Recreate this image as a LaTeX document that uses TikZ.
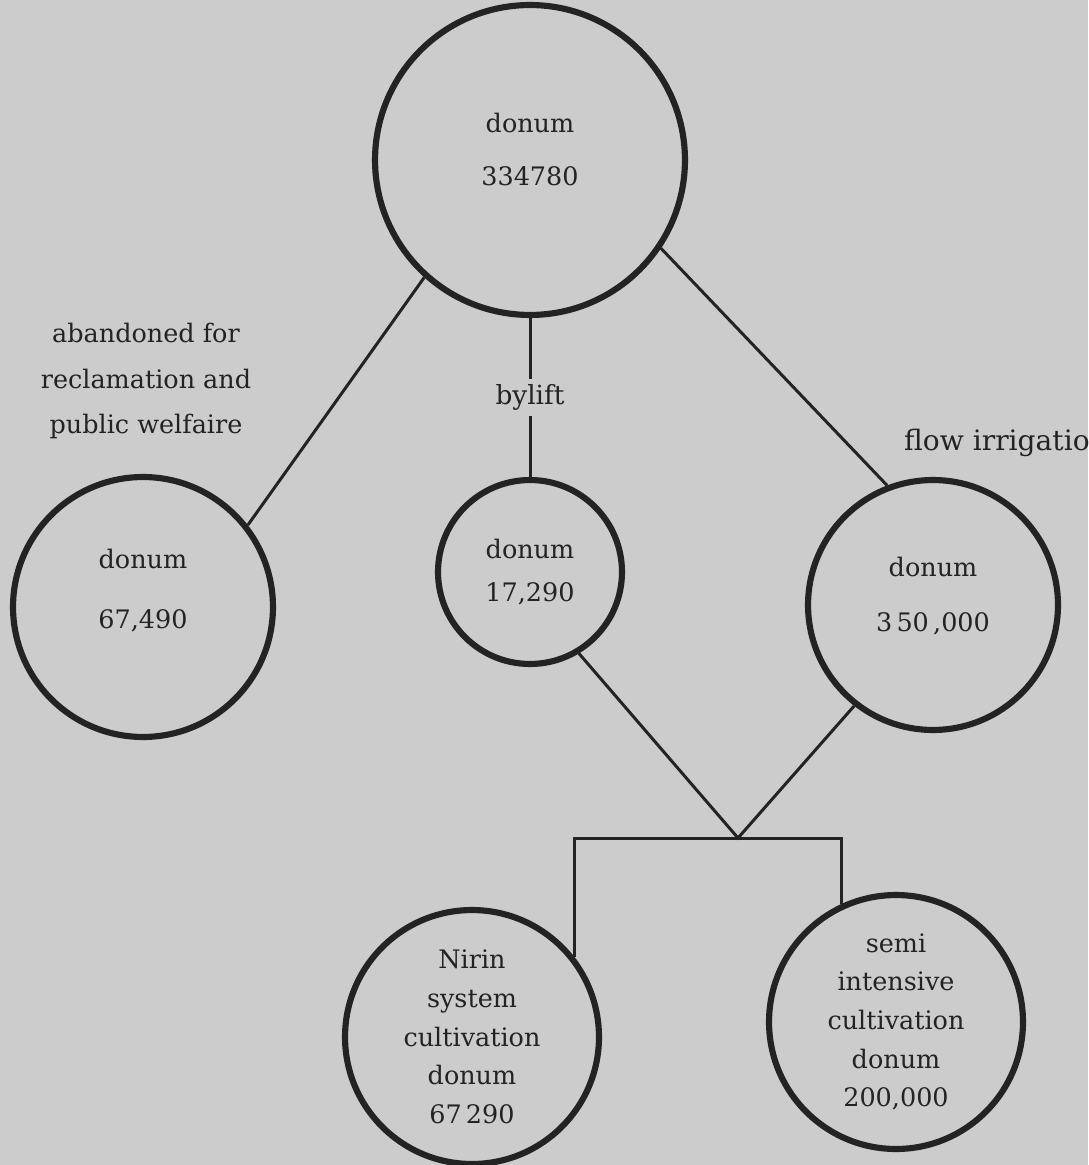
\documentclass[tikz,border=0pt]{standalone}
\usepackage{fontspec}
\setmainfont{DejaVu Serif}
\usetikzlibrary{positioning}
\definecolor{paper}{RGB}{204,204,204}
\definecolor{ink}{RGB}{35,35,35}

\begin{document}
\begin{tikzpicture}[x=0.02cm, y=-0.02cm,
  plot/.style={draw=ink, circle, line width=3.5pt, inner sep=0pt, align=center, text=ink, font=\fontsize{14.5}{22}\selectfont},
  note/.style={text=ink, align=center, font=\fontsize{14.5}{26}\selectfont},
  link/.style={draw=ink, line width=1.7pt}]
\fill[paper] (0,0) rectangle (1088,1165);
\useasboundingbox (0,0) rectangle (1088,1165);
% land areas
\node[plot, minimum size=6.2cm, text depth=12.5pt] at (530,160) (total) {donum\\[8pt]334780};
\node[plot, minimum size=5.2cm, text depth=21pt] at (143,607) (reclaim) {donum\\[12pt]67,490};
\node[plot, minimum size=3.68cm] at (530,572) (lift) {donum\\[2pt]17,290};
\node[plot, minimum size=5cm, text depth=12pt] at (933,605) (flow) {donum\\[9pt]3\,50\,,000};
\node[plot, minimum size=5.08cm] at (472,1037) (nirin) {Nirin\\system\\cultivation\\donum\\67\,290};
\node[plot, minimum size=5.08cm] at (896,1022) (semi) {semi\\intensive\\cultivation\\donum\\200,000};
% notes
\node[note] at (146,381) (reclaimnote) {abandoned for\\reclamation and\\public welfaire};
\node[note, anchor=west, font=\fontsize{16}{20}\selectfont] at (898,443) (flownote) {flow irrigatio};
% links
\draw[link] (total.228) -- (reclaim.38);
\draw[link] (total.south) -- node[fill=paper, text=ink, inner sep=3pt, font=\fontsize{15}{18}\selectfont] (liftnote) {bylift} (lift.north);
\draw[link] (total.-34) -- (flow.111);
\coordinate (meet) at (738,838);
\draw[link] (lift.-59) -- (meet) -- (flow.-128);
\draw[link] (nirin.38) -- (nirin.38 |- meet) -- (semi.115 |- meet) -- (semi.115);
\end{tikzpicture}
\end{document}
